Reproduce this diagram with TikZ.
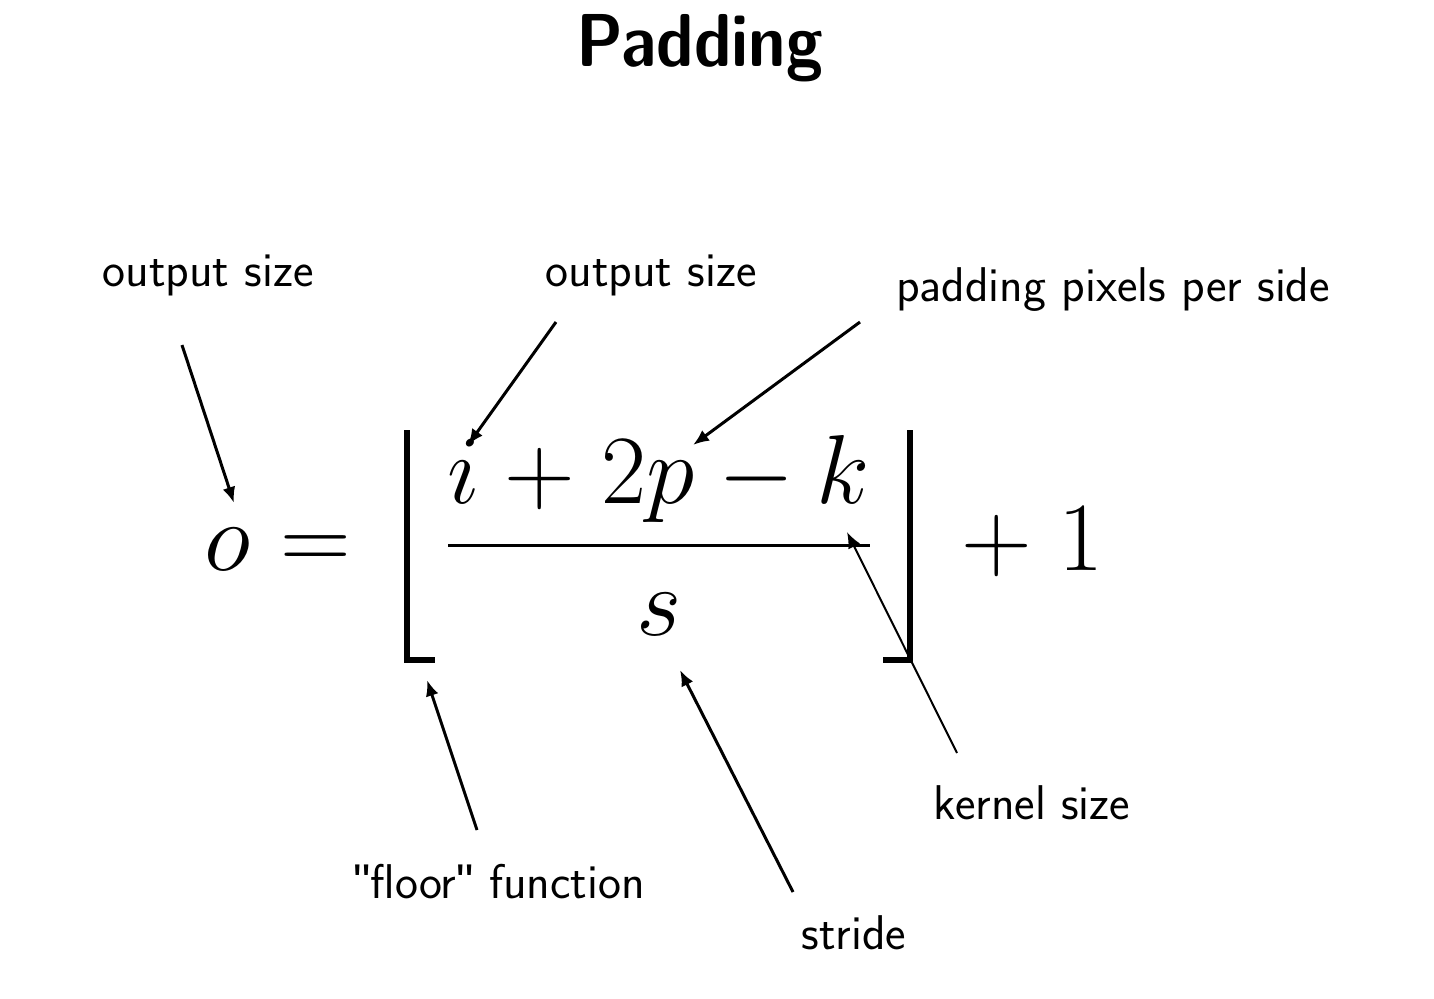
\RequirePackage{fix-cm}
\documentclass[tikz,border=0pt]{standalone}
\usepackage{fontspec}
\newfontfamily\qfont{Liberation Sans}
\usetikzlibrary{arrows.meta}
\newcommand\straightq{{\qfont\char"0022}}
\begin{document}
\begin{tikzpicture}[x=0.5pt,y=-0.5pt,
  lab/.style={font=\sffamily\fontsize{24.4}{29}\selectfont, inner sep=0pt},
  glyph/.style={font=\fontsize{49}{59}\selectfont, inner sep=0pt, anchor=base},
  arr/.style={-{Latex[length=8pt,width=6.5pt]}, line width=1.5pt},
  thinarr/.style={-{Latex[length=8pt,width=6.5pt]}, line width=1pt},
  bracket/.style={line width=2.6pt, line cap=butt, line join=miter},
  fracbar/.style={line width=1.5pt}]
\useasboundingbox (0,0) rectangle (1434,998);
% title
\node[inner sep=0pt, anchor=base, font=\sffamily\bfseries\fontsize{37.5}{45}\selectfont] (title) at (700,66) {\scalebox{0.89}[1]{Padding}};
% equation glyphs
\node[glyph] (o) at (228,570) {$o$};
\node[glyph] (eq) at (316,570) {$=$};
\node[glyph] (i) at (464,503) {$i$};
\node[glyph] (plus1) at (540,503) {$+$};
\node[glyph] (twop) at (648,503) {$2p$};
\node[glyph] (minus) at (757,503) {$-$};
\node[glyph] (k) at (843,503) {$k$};
\node[glyph] (s) at (659,635) {$s$};
\node[glyph] (plus2) at (997,570) {$+$};
\node[glyph] (one) at (1081,570) {$1$};
% floor brackets and fraction bar
\draw[bracket] (407,430) -- (407,660) -- (435,660);
\draw[bracket] (910,430) -- (910,660) -- (883,660);
\draw[fracbar] (448,545) -- (870,545);
% labels
\node[lab] (l1) at (208,275) {output size};
\node[lab] (l2) at (651,275) {output size};
\node[lab] (l3) at (1113,290) {padding pixels per side};
\node[lab] (l4) at (1032,803) {kernel size};
\node[lab] (l5) at (499,882) {\straightq floor\straightq{} function};
\node[lab] (l6) at (854,933) {stride};
% arrow end points
\coordinate (a1s) at (182,345); \coordinate (a1e) at (234,503);
\coordinate (a2s) at (556,322); \coordinate (a2e) at (468,445);
\coordinate (a3s) at (860,322); \coordinate (a3e) at (693,445);
\coordinate (a4s) at (957,753); \coordinate (a4e) at (847,532);
\coordinate (a5s) at (477,830); \coordinate (a5e) at (427,680);
\coordinate (a6s) at (793,892); \coordinate (a6e) at (680,670);
\draw[arr] (a1s) -- (a1e);
\draw[arr] (a2s) -- (a2e);
\draw[arr] (a3s) -- (a3e);
\draw[thinarr] (a4s) -- (a4e);
\draw[arr] (a5s) -- (a5e);
\draw[arr] (a6s) -- (a6e);
\end{tikzpicture}
\end{document}
